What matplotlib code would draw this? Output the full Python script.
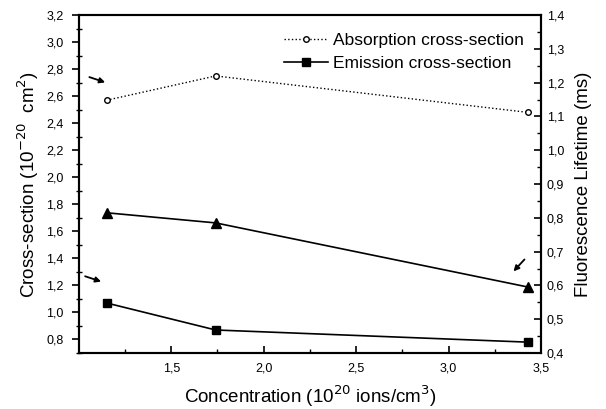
import matplotlib.pyplot as plt
from matplotlib.ticker import MultipleLocator, FuncFormatter

# data
conc = [1.15, 1.74, 3.43]
absorption = [2.57, 2.75, 2.48]
emission = [1.07, 0.87, 0.78]
lifetime = [0.815, 0.785, 0.595]

plt.rcParams['font.family'] = 'Liberation Sans'

comma = FuncFormatter(lambda v, p: f'{v:.1f}'.replace('.', ','))

fig = plt.figure(figsize=(6.06, 4.09), dpi=100)
ax = fig.add_axes([0.130, 0.137, 0.763, 0.826])
ax2 = ax.twinx()

ax.plot(conc, absorption, linestyle=':', color='black', linewidth=1.0,
        marker='o', markersize=4, markerfacecolor='white', markeredgewidth=1.0,
        label='Absorption cross-section')
ax.plot(conc, emission, linestyle='-', color='black', linewidth=1.2,
        marker='s', markersize=6, label='Emission cross-section')
ax2.plot(conc, lifetime, linestyle='-', color='black', linewidth=1.2,
         marker='^', markersize=7)

arrow = dict(arrowstyle='-|>', color='black', lw=1.3, mutation_scale=8)
ax.annotate('', xy=(1.157, 2.696), xytext=(1.043, 2.748), arrowprops=arrow)
ax.annotate('', xy=(1.135, 1.222), xytext=(1.02, 1.274), arrowprops=arrow)
ax.annotate('', xy=(3.34, 1.289), xytext=(3.42, 1.407), arrowprops=arrow)

ax.set_xlim(1.0, 3.5)
ax.set_ylim(0.7, 3.2)
ax2.set_ylim(0.4, 1.4)

ax.xaxis.set_major_locator(MultipleLocator(0.5))
ax.xaxis.set_minor_locator(MultipleLocator(0.25))
ax.yaxis.set_major_locator(MultipleLocator(0.2))
ax.yaxis.set_minor_locator(MultipleLocator(0.1))
ax2.yaxis.set_major_locator(MultipleLocator(0.1))
ax2.yaxis.set_minor_locator(MultipleLocator(0.05))

ax.xaxis.set_major_formatter(FuncFormatter(
    lambda v, p: '' if abs(v - 1.0) < 1e-6 else f'{v:.1f}'.replace('.', ',')))
ax.yaxis.set_major_formatter(comma)
ax2.yaxis.set_major_formatter(comma)

ax.tick_params(axis='y', which='major', direction='out', length=5, width=1.2,
               labelsize=9, pad=6)
ax.tick_params(axis='y', which='minor', direction='inout', length=4, width=1.0)
ax.tick_params(axis='x', which='major', direction='in', length=5, width=1.2,
               labelsize=9, pad=7)
ax.tick_params(axis='x', which='minor', direction='in', length=3, width=1.0)
ax.tick_params(top=False, which='both')
ax2.tick_params(axis='y', which='major', direction='in', length=5, width=1.2,
                labelsize=9, pad=4)
ax2.tick_params(axis='y', which='minor', direction='in', length=3, width=1.0)

for a in (ax, ax2):
    for s in a.spines.values():
        s.set_linewidth(1.5)

ax.set_xlabel('Concentration (10$^{20}$ ions/cm$^{3}$)', fontsize=13.5, labelpad=6)
ax.set_ylabel('Cross-section (10$^{-20}$  cm$^{2}$)', fontsize=13.5, labelpad=4)
ax2.set_ylabel('Fluorescence Lifetime (ms)', fontsize=13.5, labelpad=8)

ax.legend(loc='upper right', frameon=False, fontsize=12.5, handlelength=2.5,
          handletextpad=0.3, labelspacing=0.45, borderaxespad=0.6)

fig.savefig('out.png', dpi=100, facecolor='white')
